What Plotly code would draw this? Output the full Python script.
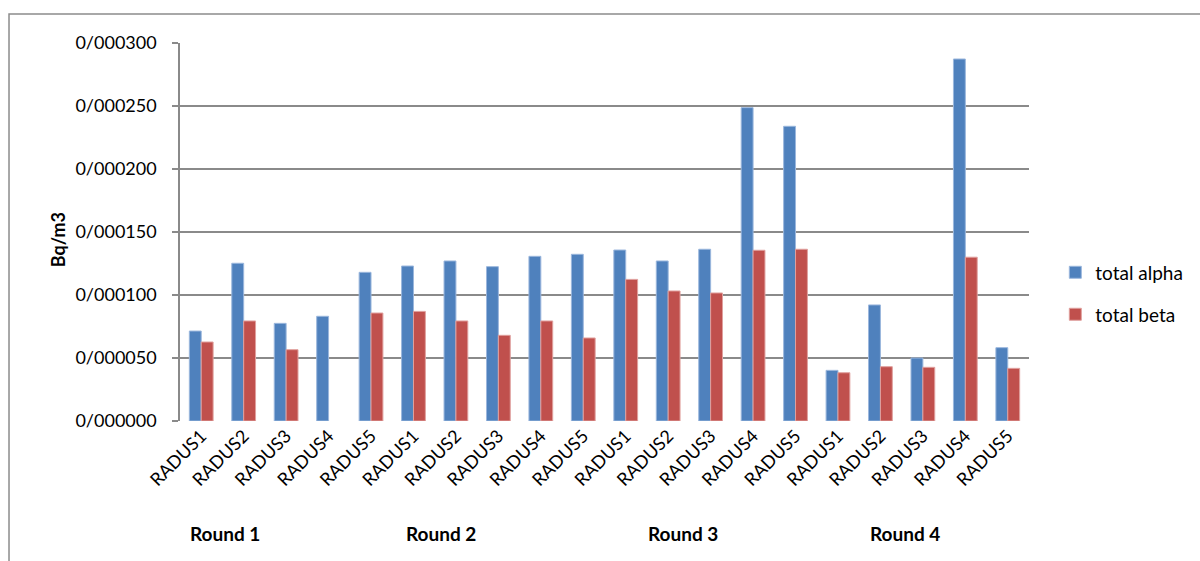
import plotly.graph_objects as go

# Sampling points, repeated for each measurement round
categories = ["RADUS1", "RADUS2", "RADUS3", "RADUS4", "RADUS5"] * 4
rounds = ["Round 1", "Round 2", "Round 3", "Round 4"]

# Activity concentrations (Bq/m3)
total_alpha = [
    0.0000714, 0.0001252, 0.0000775, 0.0000831, 0.0001180,
    0.0001230, 0.0001270, 0.0001225, 0.0001307, 0.0001323,
    0.0001357, 0.0001270, 0.0001363, 0.0002487, 0.0002339,
    0.0000402, 0.0000921, 0.0000500, 0.0002873, 0.0000582,
]
total_beta = [
    0.0000627, 0.0000794, 0.0000566, None, 0.0000857,
    0.0000870, 0.0000794, 0.0000680, 0.0000794, 0.0000659,
    0.0001124, 0.0001032, 0.0001016, 0.0001355, 0.0001363,
    0.0000383, 0.0000431, 0.0000426, 0.0001300, 0.0000418,
]

y_ticks = [0.0, 0.00005, 0.0001, 0.00015, 0.0002, 0.00025, 0.0003]
y_tick_labels = ["0/000000", "0/000050", "0/000100", "0/000150",
                 "0/000200", "0/000250", "0/000300"]

FONT = "Lato, 'Open Sans', sans-serif"
GRID = "#8a8a8a"
x_pos = list(range(len(categories)))

fig = go.Figure()
fig.add_trace(go.Bar(
    x=x_pos, y=total_alpha, name="total alpha",
    marker=dict(color="#4F81BD", line=dict(color="#9bb7dd", width=1)),
    legend="legend", showlegend=True,
))
fig.add_trace(go.Bar(
    x=x_pos, y=total_beta, name="total beta",
    marker=dict(color="#C0504D", line=dict(color="#e0a09e", width=1)),
    legend="legend2", showlegend=True,
))

# Round labels under each block of sampling points
round_x = [0.55, 5.66, 11.35, 16.57]
annotations = [
    dict(x=rx, y=-0.297, xref="x", yref="paper", text=f"<b>{r}</b>",
         showarrow=False, font=dict(family=FONT, size=19, color="#000"),
         xanchor="center", yanchor="middle")
    for rx, r in zip(round_x, rounds)
]
annotations.append(dict(
    x=-0.1440, y=0.48, xref="paper", yref="paper", text="<b>Bq/m3</b>",
    textangle=-90, showarrow=False,
    font=dict(family=FONT, size=18, color="#000"),
    xanchor="center", yanchor="middle",
))

legend_style = dict(xanchor="left", yanchor="middle",
                    font=dict(family=FONT, size=19, color="#000"),
                    bgcolor="rgba(0,0,0,0)", itemwidth=30, visible=True)

fig.update_layout(
    width=1200, height=561,
    margin=dict(l=180, r=166, t=43, b=140),
    paper_bgcolor="white", plot_bgcolor="white",
    barmode="group", bargap=0.44, bargroupgap=0.0,
    showlegend=True,
    font=dict(family=FONT, size=16, color="#000"),
    annotations=annotations,
    legend=dict(x=1.031, y=0.393, **legend_style),
    legend2=dict(x=1.031, y=0.282, **legend_style),
    shapes=[
        # chart frame
        dict(type="rect", xref="paper", yref="paper",
             x0=-0.2014, x1=1.25, y0=-0.6, y1=1.0767,
             line=dict(color="#8c8c8c", width=1.5), layer="below"),
    ],
)

fig.update_xaxes(
    tickmode="array", tickvals=x_pos, ticktext=categories,
    tickangle=-45, range=[-0.5, len(categories) - 0.5],
    showgrid=False, showline=False, ticks="",
    tickfont=dict(family=FONT, size=18, color="#000"),
    zeroline=False,
)
fig.update_yaxes(
    range=[0, 0.0003], tickmode="array", tickvals=y_ticks,
    ticktext=y_tick_labels,
    showgrid=True, gridcolor=GRID, gridwidth=1.5,
    showline=True, linecolor=GRID, linewidth=1.5,
    ticks="outside", ticklen=6, tickcolor=GRID, tickwidth=1.5,
    ticklabelstandoff=12,
    tickfont=dict(family=FONT, size=18, color="#000"),
    zeroline=False,
)

fig.write_html("out.html")
